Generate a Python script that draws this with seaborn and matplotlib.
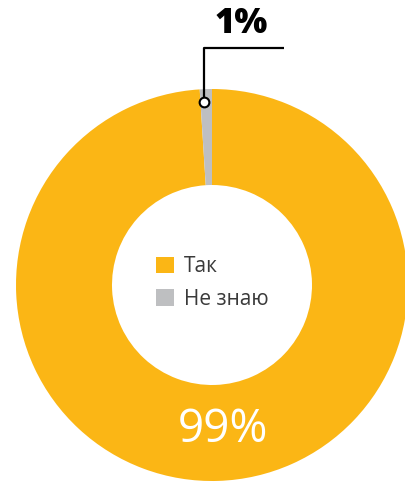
import matplotlib
matplotlib.use("Agg")
import matplotlib.pyplot as plt
import seaborn as sns
import numpy as np

# data
labels = ["Так", "Не знаю"]
values = [99, 1]
colors = ["#FBB615", "#BEBFC1"]
pct_labels = ["99%", "1%"]

sns.set_theme(style="white")
plt.rcParams["font.family"] = ["Open Sans", "DejaVu Sans"]

W, H = 405, 482
fig = plt.figure(figsize=(W / 100, H / 100), dpi=100)
ax = fig.add_axes([0, 0, 1, 1])
ax.set_xlim(0, W)
ax.set_ylim(0, H)
ax.set_aspect("equal")
ax.axis("off")

cx, cy = 212, H - 285
r_out, r_in = 196, 100
wedges, _ = ax.pie(values, colors=colors, startangle=90, counterclock=False,
                   radius=r_out, center=(cx, cy),
                   wedgeprops=dict(width=r_out - r_in, linewidth=0))
ax.set_xlim(0, W)
ax.set_ylim(0, H)

# big value inside the orange ring
ax.text(223, H - 430, pct_labels[0], color="white", fontsize=33,
        fontweight="normal", ha="center", va="center")

# leader for the small slice
w = wedges[1]
ang = np.deg2rad(w.theta1 + (w.theta2 - w.theta1) * 0.7)
px = cx + 183 * np.cos(ang)
py = cy + 183 * np.sin(ang)
ax.plot([px, px, 284], [py, H - 48, H - 48], color="black", lw=1.6,
        solid_capstyle="butt", zorder=3)
ax.plot(px, py, "o", ms=7, mfc="white", mec="black", mew=1.5, zorder=4)
ax.text(241, H - 24, pct_labels[1], color="black", fontsize=25,
        fontweight="heavy", ha="center", va="center")

leg = ax.legend(wedges, labels, loc="center left",
                bbox_to_anchor=(156 / W, 1 - 283 / H), bbox_transform=fig.transFigure,
                frameon=False, fontsize=15, handlelength=0.85, handleheight=0.85,
                handletextpad=0.5, labelspacing=0.55, borderpad=0, borderaxespad=0)
for t in leg.get_texts():
    t.set_color("#3A3A3A")

fig.savefig("out.png", dpi=100)
